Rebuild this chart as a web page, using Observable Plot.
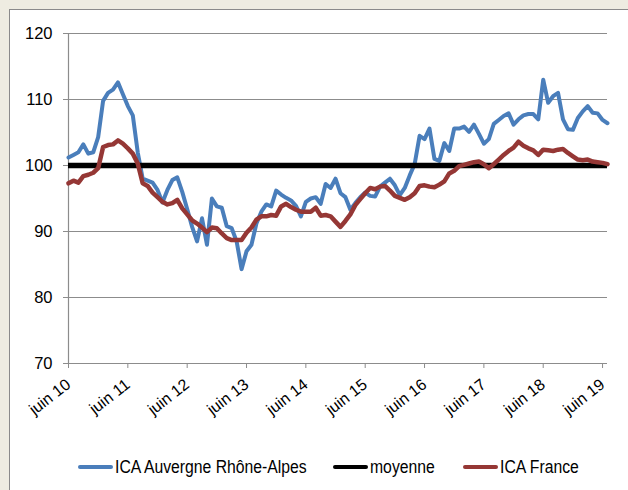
<!DOCTYPE html>
<html>
<head>
<meta charset="utf-8">
<script src="https://cdn.jsdelivr.net/npm/d3@7"></script>
<script src="https://cdn.jsdelivr.net/npm/@observablehq/plot@0.6"></script>
<style>
  html, body { margin: 0; padding: 0; width: 628px; height: 490px; overflow: hidden; background: #EEECE1; }
  body { font-family: "Liberation Sans", Arial, sans-serif; color: #000; }
  #panel { position: absolute; left: 9px; top: 9px; width: 660px; height: 520px; background: #fff;
           border-left: 1px solid #8a8a8a; border-top: 1px solid #8a8a8a; }
  #chart { position: absolute; left: 0; top: 0; }
  .sw { position: absolute; width: 35px; height: 4px; border-radius: 2px; }
  .lt { position: absolute; font-size: 17.5px; line-height: 20px; white-space: nowrap;
        transform: scaleX(0.9); transform-origin: 0 50%; }
</style>
</head>
<body>
<div id="panel">
  <div id="chart"></div>
</div>
<script>
// ---- data (monthly, June 2010 -> July 2019) ----
const seriesNames = ["ICA Auvergne Rhône-Alpes", "moyenne", "ICA France"];
const seriesColors = ["#4A7EBB", "#000000", "#953735"];

const icaAURA = [
  101.2, 101.6, 102.0, 103.2, 101.8, 102.0, 104.3, 109.8, 111.0, 111.5,
  112.6, 110.8, 109.0, 107.6, 102.0, 98.0, 97.7, 97.4, 96.3, 94.4,
  96.3, 97.8, 98.2, 96.0, 93.4, 90.7, 88.5, 92.0, 88.0, 95.0,
  93.8, 93.6, 90.8, 90.5, 88.5, 84.3, 87.0, 88.0, 91.2, 93.0,
  94.1, 93.8, 96.2, 95.6, 95.1, 94.7, 93.9, 92.3, 94.5, 95.0,
  95.2, 94.2, 97.2, 96.6, 98.0, 95.8, 95.2, 93.3, 94.3, 95.2,
  95.9, 95.4, 95.3, 96.8, 97.4, 98.0, 97.0, 95.5, 96.6, 98.5,
  100.2, 104.5, 104.0, 105.6, 101.0, 100.7, 103.4, 102.2, 105.6, 105.6,
  105.9, 105.1, 106.2, 104.8, 103.3, 104.0, 106.3, 106.9, 107.5, 107.9,
  106.2, 107.0, 107.6, 107.8, 107.8, 107.0, 113.0, 109.5, 110.5, 111.0,
  107.0, 105.5, 105.4, 107.2, 108.2, 109.0, 108.0, 107.9, 106.9, 106.4
];

const moyenne = 100;

const icaFrance = [
  97.3, 97.7, 97.4, 98.4, 98.6, 98.9, 99.6, 102.8, 103.1, 103.2,
  103.8, 103.3, 102.6, 101.8, 100.3, 97.3, 96.9, 95.9, 95.2, 94.5,
  94.1, 94.3, 94.8, 93.5, 92.6, 91.7, 91.2, 90.6, 89.9, 90.6,
  90.5, 89.7, 89.0, 88.7, 88.7, 88.7, 89.8, 90.6, 91.8, 92.3,
  92.3, 92.5, 92.4, 93.8, 94.2, 93.7, 93.3, 93.0, 93.0, 93.0,
  93.6, 92.4, 92.5, 92.3, 91.5, 90.7, 91.6, 92.6, 94.0, 94.9,
  95.8, 96.6, 96.4, 96.8, 96.9, 96.2, 95.4, 95.1, 94.8, 95.2,
  95.8, 96.9, 97.0, 96.8, 96.7, 97.1, 97.6, 98.8, 99.2, 99.9,
  100.1, 100.3, 100.5, 100.6, 100.2, 99.6, 100.2, 100.9, 101.6, 102.2,
  102.7, 103.6, 103.0, 102.6, 102.3, 101.6, 102.4, 102.3, 102.2, 102.4,
  102.5, 101.9, 101.4, 100.9, 100.8, 100.9, 100.6, 100.5, 100.4, 100.2
];

const xTickLabels = ["juin 10", "juin 11", "juin 12", "juin 13", "juin 14",
                     "juin 15", "juin 16", "juin 17", "juin 18", "juin 19"];
const xTickIndex = [0, 12, 24, 36, 48, 60, 72, 84, 96, 108];
const yTicks = [70, 80, 90, 100, 110, 120];

const grid = "#8c8c8c";

const chart = Plot.plot({
  width: 618,
  height: 413,
  marginLeft: 58,
  marginRight: 21,
  marginTop: 23,
  marginBottom: 60,
  style: { fontFamily: '"Liberation Sans", Arial, sans-serif', color: "#000", background: "transparent" },
  x: { domain: [0, icaAURA.length - 1] },
  y: { domain: [70, 120] },
  marks: [
    Plot.ruleY(yTicks, { stroke: grid, strokeWidth: 1.2 }),
    Plot.ruleX([0], { stroke: grid, strokeWidth: 1.2 }),
    Plot.axisY({ ticks: yTicks, tickSize: 5, tickPadding: 11, fontSize: 16.5, stroke: grid, label: null }),
    Plot.axisX({ ticks: xTickIndex, tickFormat: (i) => xTickLabels[xTickIndex.indexOf(i)],
                 tickRotate: -38, tickSize: 5, tickPadding: 14, fontSize: 16, stroke: grid, label: null }),
    Plot.lineY(icaAURA, { stroke: seriesColors[0], strokeWidth: 4, strokeLinejoin: "round", strokeLinecap: "round" }),
    Plot.ruleY([moyenne], { stroke: seriesColors[1], strokeWidth: 5.5 }),
    Plot.lineY(icaFrance, { stroke: seriesColors[2], strokeWidth: 4.5, strokeLinejoin: "round", strokeLinecap: "round" })
  ]
});
document.getElementById("chart").appendChild(chart);

// legend (panel-relative coordinates; panel content starts at 10,10)
const swLeft = [68, 323, 453];
const panel = document.getElementById("panel");
seriesNames.forEach((name, k) => {
  const sw = document.createElement("div");
  sw.className = "sw";
  sw.style.left = swLeft[k] + "px";
  sw.style.top = (456.5 - 2) + "px";
  sw.style.background = seriesColors[k];
  const t = document.createElement("div");
  t.className = "lt";
  t.style.left = (swLeft[k] + 37) + "px";
  t.style.top = (456.5 - 10) + "px";
  t.textContent = name;
  panel.appendChild(sw);
  panel.appendChild(t);
});
</script>
</body>
</html>
